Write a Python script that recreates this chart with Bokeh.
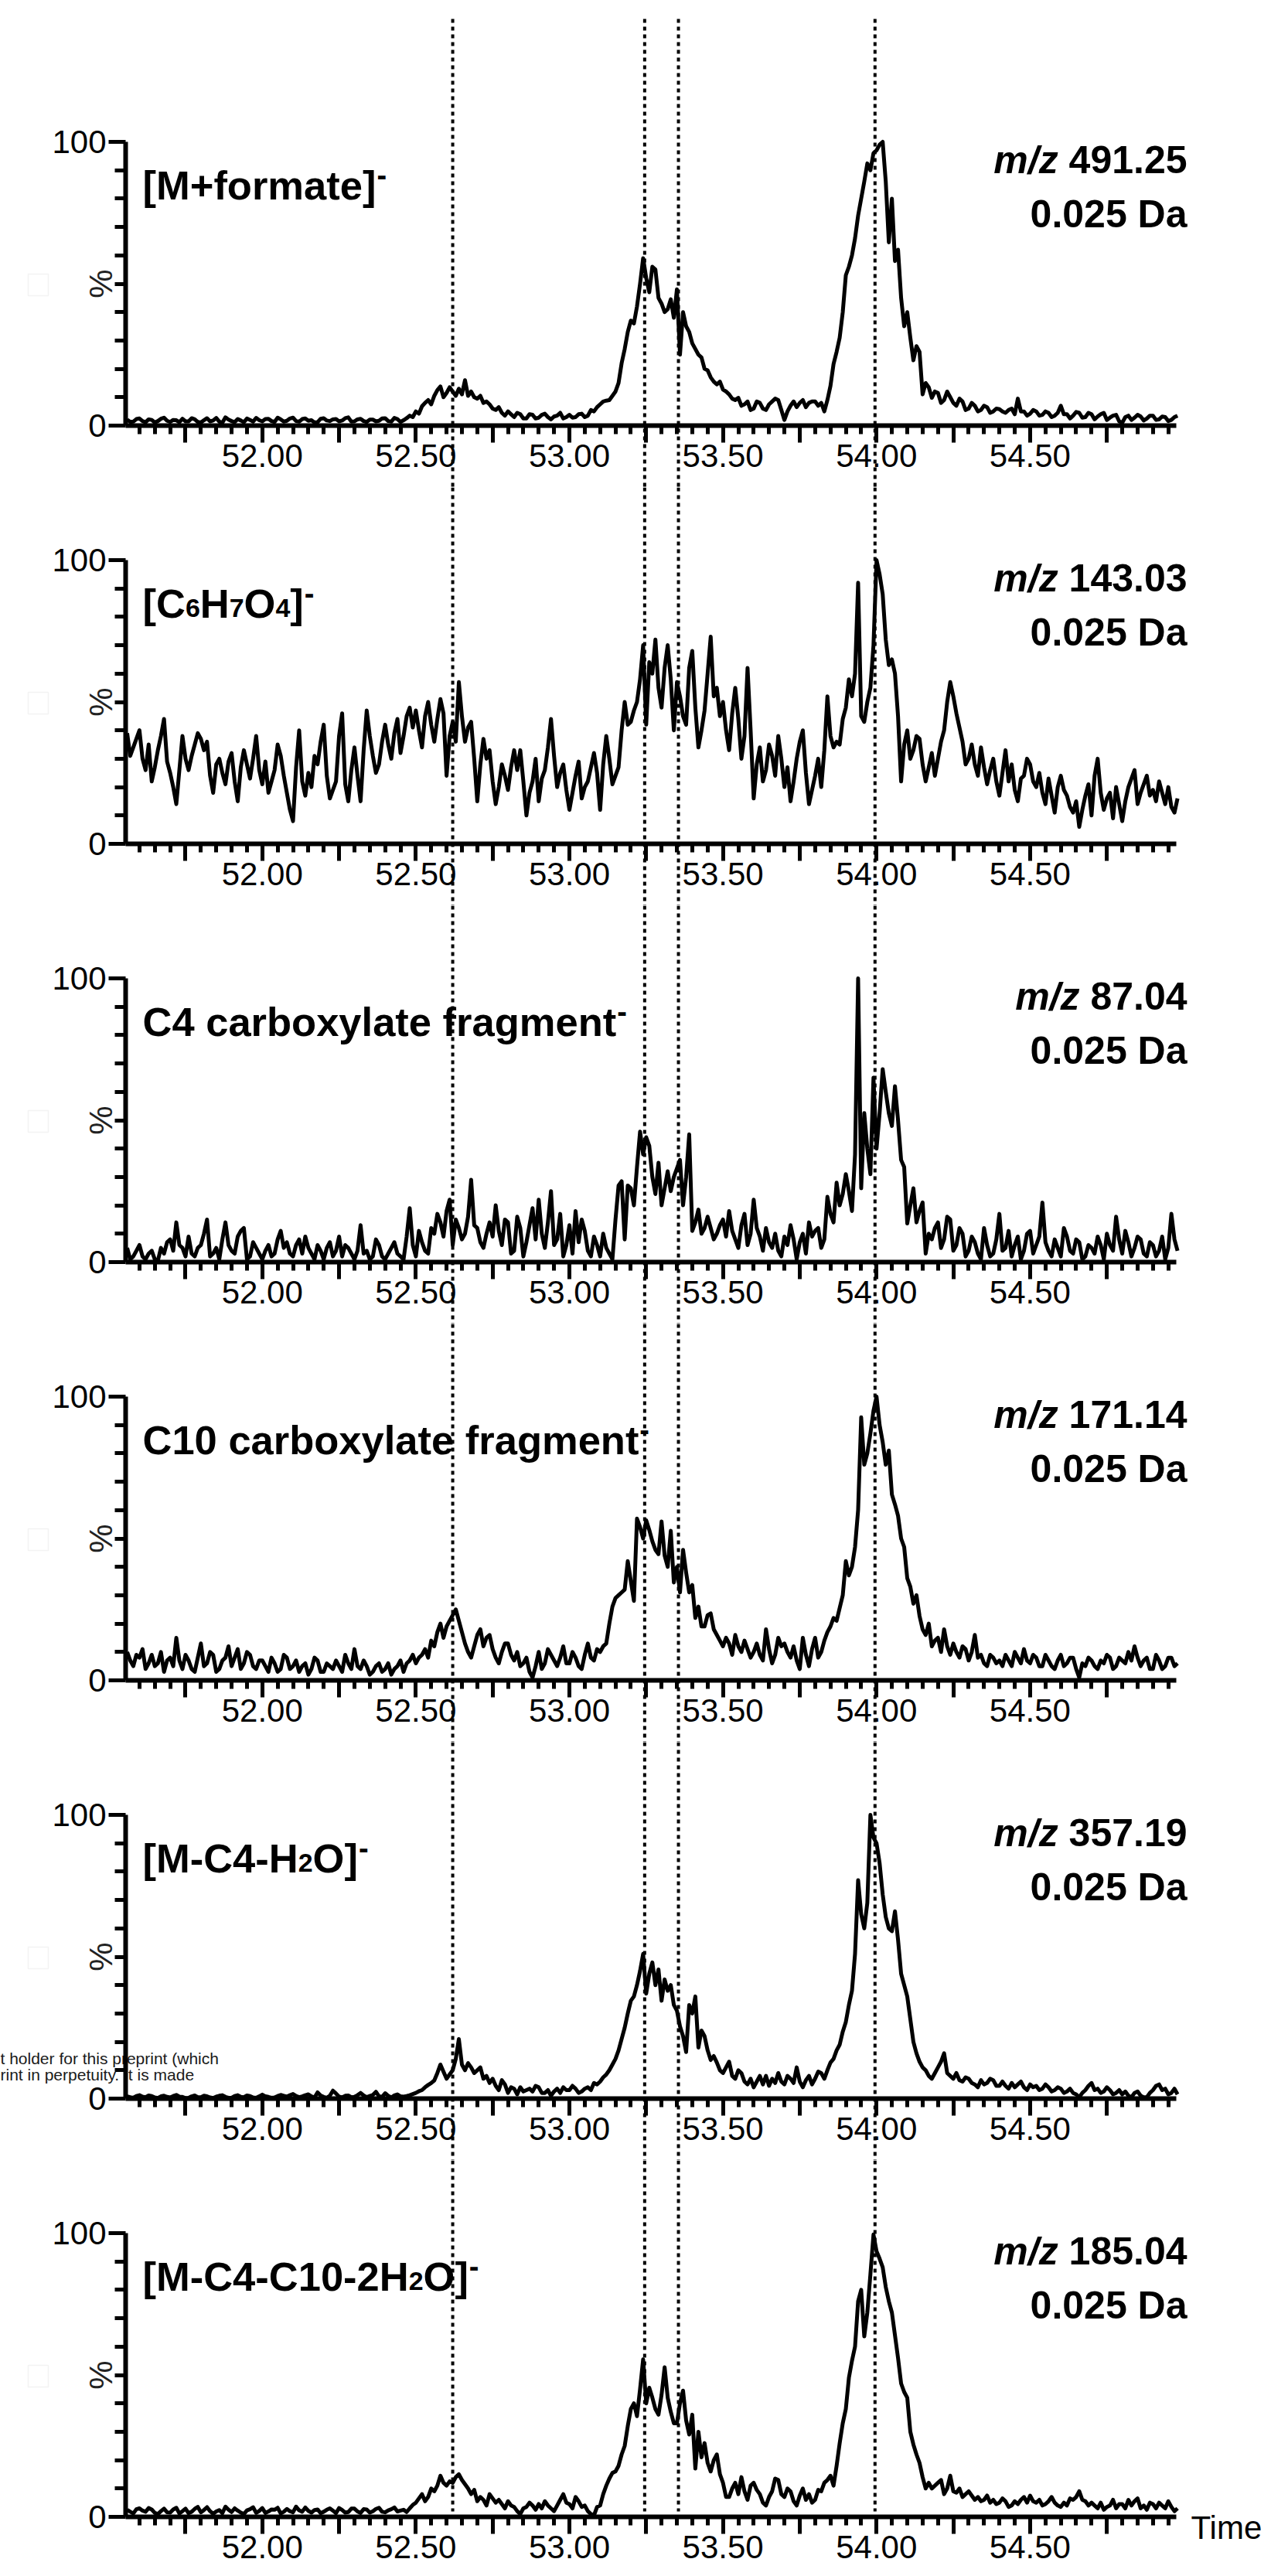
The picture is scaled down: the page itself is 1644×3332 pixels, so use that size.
import numpy as np
from bokeh.plotting import figure
from bokeh.layouts import column
from bokeh.models import Range1d, LinearAxis, FixedTicker, BoxAnnotation
from bokeh.core.properties import value
from bokeh.embed import file_html
from bokeh.resources import INLINE

# ---------------------------------------------------------------- data
# retention time grid (min): 51.56 ... 54.98, one scan every 0.01 min
time_min = np.round(51.56 + 0.01 * np.arange(343), 2)

# relative intensity (%) of each extracted ion chromatogram;
# first row 51.56-51.59, then one row per 0.1 min
eic_491 = [
    2.1, 1.3, 1.4, 2.3,
    2.5, 1.6, 1.2, 2.2, 2.0, 1.1, 1.6, 2.4, 2.8, 1.7,
    1.3, 2.0, 1.9, 1.2, 2.4, 1.5, 1.5, 2.6, 2.2, 1.3,
    1.1, 1.9, 2.6, 1.5, 1.8, 2.7, 1.4, 1.0, 2.9, 2.1,
    1.6, 1.2, 2.3, 1.8, 1.2, 2.5, 2.0, 1.4, 2.7, 1.9,
    1.5, 2.3, 2.4, 1.6, 1.3, 2.8, 2.2, 1.4, 1.7, 2.5,
    2.8, 1.6, 1.4, 2.3, 2.5, 1.7, 1.9, 1.1, 1.2, 2.4,
    2.6, 1.8, 1.6, 2.2, 2.3, 1.5, 1.8, 2.6, 2.9, 1.4,
    1.5, 2.2, 2.4, 1.6, 1.3, 2.1, 2.1, 1.5, 1.7, 2.5,
    2.6, 1.6, 1.4, 2.7, 2.3, 1.3, 1.9, 2.6, 3.5, 3.0,
    5.0, 4.2, 6.8, 8.0, 9.0, 7.5, 10.5, 12.5, 13.8, 10.0,
    11.5, 13.5, 12.0, 10.5, 13.0, 11.0, 16.0, 10.5, 12.0, 10.0,
    9.5, 10.5, 8.0, 8.5, 7.5, 6.0, 5.5, 6.5, 4.5, 3.5,
    5.0, 4.0, 3.0, 4.5, 4.0, 2.5, 2.5, 4.0, 3.8, 2.5,
    2.8, 3.8, 4.2, 3.0, 2.2, 3.2, 3.5, 4.5, 2.5, 3.0,
    3.8, 2.8, 3.0, 4.0, 4.2, 3.0, 3.5, 5.5, 5.0, 6.5,
    7.5, 8.5, 8.8, 9.0, 10.5, 12.0, 15.0, 22.0, 27.0, 33.0,
    37.0, 36.0, 42.0, 50.0, 59.0, 52.0, 47.0, 56.0, 55.0, 45.0,
    43.0, 40.0, 41.0, 44.5, 38.0, 48.0, 25.0, 40.0, 35.0, 33.0,
    29.0, 27.0, 25.0, 24.0, 20.0, 19.5, 17.0, 15.5, 14.5, 15.5,
    12.7, 12.0, 11.0, 9.5, 9.0, 9.8, 7.0, 7.5, 8.5, 5.5,
    6.0, 8.5, 8.0, 6.0, 5.5, 7.5, 8.5, 9.5, 9.0, 5.5,
    2.0, 5.0, 7.0, 8.5, 6.5, 8.0, 9.0, 6.5, 8.0, 8.5,
    8.5, 7.0, 8.0, 5.0, 9.0, 14.0, 21.7, 26.0, 31.0, 40.0,
    53.0, 56.0, 60.0, 66.0, 74.0, 80.0, 86.0, 92.4, 90.0, 96.0,
    97.0, 99.0, 100.0, 86.0, 64.6, 80.0, 58.0, 62.0, 45.0, 35.0,
    40.0, 31.0, 23.0, 28.0, 26.0, 11.0, 15.0, 13.5, 9.8, 12.0,
    11.5, 8.0, 9.0, 12.0, 10.0, 8.0, 7.0, 9.5, 8.5, 5.5,
    6.0, 8.0, 7.0, 5.0, 5.5, 7.0, 6.5, 4.5, 5.0, 6.0,
    5.8, 5.0, 4.5, 5.5, 6.0, 4.0, 9.5, 5.0, 5.0, 3.5,
    4.2, 5.5, 5.0, 3.5, 3.8, 5.0, 4.5, 3.0, 3.5, 4.5,
    7.0, 4.0, 4.0, 2.5, 3.5, 4.8, 4.5, 2.8, 3.0, 4.5,
    4.0, 2.2, 3.2, 4.0, 4.5, 2.0, 2.8, 3.5, 3.8, 1.5,
    1.0, 3.0, 3.5, 2.0, 2.8, 3.8, 3.2, 1.8, 2.5, 3.5,
    3.5, 2.0, 2.2, 3.2, 3.0, 1.6, 2.0, 3.0, 3.5,
]
eic_143 = [
    39, 31, 34, 37,
    40, 30, 26, 35, 22, 27, 33, 38, 44, 29,
    25, 20, 14, 26, 38, 30, 26, 31, 35, 39,
    37, 33, 36, 24, 18, 28, 30, 25, 21, 29,
    32, 22, 15, 27, 33, 28, 23, 30, 38, 26,
    21, 29, 18, 22, 26, 35, 31, 24, 18, 12,
    8, 27, 40, 22, 17, 25, 20, 31, 28, 36,
    42, 24, 16, 19, 22, 38, 46, 21, 15, 26,
    34, 24, 15, 33, 47, 38, 31, 25, 28, 36,
    42, 35, 30, 39, 44, 32, 38, 45, 48, 41,
    47, 40, 34, 45, 50, 42, 36, 44, 51, 46,
    24, 38, 43, 36, 57, 45, 36, 41, 43, 30,
    15, 28, 37, 30, 33, 22, 14, 20, 28, 24,
    19, 27, 33, 26, 33, 22, 10, 18, 22, 30,
    15, 23, 26, 34, 44, 31, 20, 25, 28, 19,
    12, 18, 24, 29, 16, 20, 22, 27, 32, 25,
    12, 28, 38, 30, 21, 24, 27, 40, 50, 42,
    43, 47, 50, 58, 70, 42, 64, 60, 72, 55,
    48, 62, 70, 58, 40, 57, 52, 45, 42, 62,
    68, 48, 34, 40, 47, 60, 73, 52, 55, 45,
    50, 40, 33, 46, 55, 44, 30, 38, 62, 40,
    16, 28, 34, 22, 26, 35, 31, 24, 38, 30,
    20, 27, 15, 22, 30, 36, 40, 25, 14, 19,
    24, 30, 20, 33, 52, 38, 34, 36, 35, 44,
    48, 58, 52, 60, 92, 45, 43, 50, 55, 70,
    100, 95, 88, 72, 63, 65, 60, 45, 22, 35,
    40, 30, 33, 38, 37, 28, 22, 27, 32, 24,
    30, 36, 40, 50, 57, 52, 46, 41, 36, 28,
    30, 35, 28, 24, 34, 27, 21, 26, 30, 22,
    17, 25, 33, 22, 28, 19, 15, 23, 24, 30,
    28, 22, 20, 25, 18, 14, 23, 17, 11, 20,
    24, 19, 17, 13, 11, 15, 6, 12, 17, 21,
    10, 24, 30, 18, 12, 16, 18, 9, 20, 14,
    8, 15, 20, 23, 26, 14, 18, 21, 24, 17,
    19, 15, 22, 18, 14, 20, 13, 11, 16,
]
eic_87 = [
    5, 1, 2, 4,
    6, 2, 1, 3, 4, 1, 0.5, 5, 3, 7,
    8, 4, 14, 6, 5, 2, 9, 3, 2, 5,
    6, 10, 15, 2, 3, 5, 1, 8, 14, 6,
    4, 3, 9, 11, 12, 1, 2, 7, 5, 3,
    1, 4, 6, 2, 3, 8, 11, 5, 7, 3,
    2, 6, 8, 3, 9, 5, 3, 1, 6, 4,
    1, 5, 7, 2, 4, 9, 2, 6, 5, 3,
    1, 4, 13, 3, 4, 1, 2, 8, 6, 2,
    1, 3, 5, 7, 3, 2, 1, 9, 19, 6,
    2, 11, 7, 4, 3, 12, 10, 17, 14, 9,
    18, 22, 6, 15, 12, 8, 10, 16, 29, 13,
    12, 7, 5, 10, 14, 9, 20, 11, 6, 15,
    14, 3, 4, 16, 12, 2, 7, 13, 19, 8,
    22, 10, 5, 14, 25, 6, 8, 17, 2, 6,
    13, 3, 18, 7, 15, 11, 4, 2, 9, 6,
    2, 10, 5, 3, 1, 15, 27, 28.5, 8, 27,
    26, 20, 33.5, 46, 38, 44, 41, 30, 24, 35,
    20, 26, 32, 25, 30, 33, 36, 20, 30, 45,
    11, 14, 18.5, 10, 12, 16, 12, 8, 10, 13,
    15, 9, 18, 11, 8, 5, 13, 17, 6, 10,
    22, 12, 9, 4, 12, 7, 5, 10, 4, 2,
    9, 6, 13, 8, 1, 7, 10, 3, 14, 9,
    11, 12, 5, 8, 23, 17, 14, 28, 20, 24,
    31, 25, 18, 38, 100, 26, 52.5, 40, 31, 65,
    40, 52.5, 68, 60, 52.5, 48, 62, 50, 36, 33.5,
    13.6, 20, 26, 14, 18, 21, 3, 10, 8, 12,
    14, 5, 8, 16, 15, 4, 6, 12, 10, 2,
    4, 9, 7, 3, 1, 12, 6, 2, 3, 8,
    17, 4, 5, 11, 2, 6, 9, 1, 4, 10,
    11, 3, 6, 9, 21, 7, 4, 2, 8, 5,
    2, 12, 9, 4, 3, 8, 7, 1, 2, 6,
    5, 3, 9, 6, 1, 10, 6, 4, 16, 8,
    3, 11, 7, 2, 5, 9, 8, 3, 2, 7,
    6, 2, 4, 9, 1, 5, 17, 8, 4,
]
eic_171 = [
    10, 7, 5, 9,
    8, 11, 4, 6, 9, 5, 6, 10, 3, 7,
    8, 5, 15, 7, 4, 9, 7, 4, 3, 8,
    13, 5, 6, 10, 9, 3, 4, 7, 8, 12,
    5, 8, 11, 4, 6, 10, 9, 5, 4, 7,
    7, 5, 3, 8, 6, 3, 4, 9, 8, 4,
    5, 7, 3, 5, 6, 2, 4, 8, 7, 3,
    3, 6, 5, 4, 7, 5, 3, 9, 6, 4,
    11, 5, 4, 7, 5, 2, 3, 5, 6, 3,
    4, 6, 2, 4, 5, 7, 3, 6, 7, 9,
    6, 8, 9, 11, 8, 14, 12, 17, 20, 15,
    19, 21, 23, 25, 21, 17, 13, 10, 8, 12,
    16, 18, 12, 15, 16, 11, 8, 6, 10, 13,
    13, 9, 7, 10, 5, 6, 8, 3, 1, 5,
    10, 4, 6, 11, 9, 7, 5, 8, 12, 6,
    6, 10, 8, 5, 4, 9, 13, 8, 7, 11,
    10, 12, 13, 20, 26, 29, 30, 31, 32, 42,
    35, 28, 57, 54, 50, 56.4, 53, 49, 46, 44.5,
    56, 44, 40, 52.7, 34.5, 40, 31, 46, 38, 31,
    33.6, 22, 26, 19, 19, 23, 23.6, 18, 16, 14,
    12, 15, 13, 9, 16, 12, 10, 14, 11, 8,
    10, 13, 9, 7, 18, 11, 6, 9, 15, 12,
    13, 10, 8, 12, 7, 4, 15, 9, 5, 11,
    15, 8, 10, 14, 17, 19, 22, 21, 25.5, 30,
    42, 37, 40, 47, 60, 92.7, 76, 80, 87, 95,
    100, 90, 84, 76, 81, 65.5, 62, 58, 50, 47,
    36, 33, 27, 30, 22.7, 18, 16, 20, 12, 14,
    15, 10, 18, 12, 9, 13, 10, 8, 12, 11,
    7, 10, 16, 8, 9, 6, 5, 9, 8, 6,
    7, 5, 9, 7, 5, 10, 8, 6, 11, 7,
    6, 9, 8, 5, 5, 9, 7, 5, 4, 7,
    9, 5, 6, 8, 8, 4, 1, 6, 5, 8,
    7, 5, 4, 7, 6, 9, 8, 4, 5, 8,
    7, 6, 10, 7, 12, 8, 5, 7, 8, 4,
    4, 9, 7, 4, 5, 8, 8, 5, 6,
]
eic_357 = [
    0.8, 0.5, 0.3, 0.9,
    1.2, 0.7, 0.5, 1.1, 0.9, 0.4, 0.2, 0.8, 1.0, 0.6,
    0.4, 0.9, 1.3, 0.7, 0.6, 0.2, 0.3, 0.8, 1.1, 0.5,
    0.5, 1.0, 0.8, 0.4, 0.2, 0.7, 1.0, 1.2, 0.6, 0.3,
    0.3, 0.9, 1.2, 0.6, 0.5, 1.1, 0.9, 0.4, 0.3, 0.8,
    1.4, 0.8, 0.6, 0.3, 0.4, 0.9, 1.3, 1.0, 0.7, 1.2,
    1.6, 0.9, 0.5, 0.8, 1.2, 1.5, 0.8, 0.4, 2.2, 1.1,
    0.6, 0.3, 1.0, 2.8, 1.8, 0.7, 0.4, 1.0, 1.1, 0.5,
    0.6, 1.2, 2.0, 1.1, 0.5, 0.9, 1.3, 2.4, 0.8, 0.6,
    1.9, 1.0, 0.4, 1.1, 1.5, 0.8, 0.7, 0.9, 1.2, 1.6,
    2.0, 2.6, 3.0, 4.0, 4.8, 5.5, 6.4, 9.0, 12.0, 9.5,
    7.0, 8.5, 10.0, 14.0, 21.0, 12.0, 10.0, 12.5, 11.0, 9.0,
    10.0, 11.0, 7.0, 8.0, 5.5, 7.0, 4.5, 3.0, 6.5, 5.0,
    2.0, 4.0, 3.5, 1.5, 4.0, 2.5, 3.0, 3.5, 2.5, 4.5,
    4.0, 2.0, 2.0, 3.0, 1.0, 2.5, 3.5, 2.0, 4.0, 3.0,
    3.0, 4.5, 3.5, 2.0, 2.5, 3.5, 4.0, 3.0, 5.5, 5.0,
    6.0, 7.5, 8.5, 10.0, 12.0, 14.0, 17.0, 21.0, 25.0, 30.0,
    34.5, 36.0, 40.0, 45.0, 51.0, 37.0, 44.0, 48.0, 40.0, 45.5,
    34.5, 42.0, 38.0, 40.0, 33.0, 31.0, 25.5, 22.0, 16.4, 33.0,
    30.0, 36.0, 18.0, 24.0, 22.0, 17.0, 13.6, 15.0, 12.7, 10.0,
    9.0, 11.0, 13.0, 8.0, 7.0, 10.0, 9.0, 6.0, 5.0, 7.0,
    4.0, 6.0, 8.0, 5.0, 8.0, 4.5, 7.0, 5.5, 9.0, 6.0,
    5.0, 8.0, 7.0, 5.5, 11.0, 6.0, 4.0, 6.5, 8.0, 5.0,
    7.0, 9.5, 9.0, 7.0, 10.0, 12.7, 14.0, 17.0, 19.0, 23.6,
    27.0, 33.0, 38.0, 51.0, 77.0, 65.0, 60.0, 69.0, 100.0, 92.0,
    90.0, 83.0, 72.0, 64.0, 60.0, 59.0, 66.0, 56.0, 44.0, 40.0,
    36.0, 28.0, 20.0, 16.0, 13.0, 11.0, 10.0, 8.0, 7.0, 9.0,
    11.0, 13.0, 16.0, 9.0, 8.0, 7.0, 9.0, 6.5, 6.0, 7.5,
    7.0, 5.5, 5.0, 4.0, 6.5, 5.0, 5.5, 7.0, 6.5, 4.5,
    4.5, 6.0, 4.5, 3.5, 5.5, 4.0, 5.0, 6.0, 4.0, 3.0,
    5.0, 4.0, 4.5, 3.0, 3.5, 5.0, 4.0, 2.5, 3.0, 4.0,
    3.5, 2.0, 2.5, 3.5, 2.0, 1.5, 0.5, 2.0, 3.0, 4.5,
    5.5, 3.0, 3.5, 2.0, 2.5, 4.0, 3.0, 1.5, 2.0, 3.0,
    1.5, 2.5, 1.0, 0.5, 2.0, 2.5, 1.0, 0.5, 0.5, 2.0,
    3.0, 4.5, 5.0, 3.0, 3.5, 1.5, 2.0, 3.5, 1.5,
]
eic_185 = [
    2.5, 1.8, 1.2, 2.7,
    3.0, 2.2, 1.8, 3.1, 2.6, 1.4, 1.0, 2.0, 2.9, 1.6,
    1.5, 2.6, 3.2, 1.2, 2.0, 2.9, 1.3, 1.8, 2.8, 3.5,
    1.6, 2.4, 3.4, 2.0, 1.1, 1.9, 2.4, 1.3, 3.6, 2.5,
    1.7, 3.0, 2.2, 1.5, 1.0, 2.3, 2.7, 3.4, 1.4, 2.1,
    3.1, 1.4, 1.9, 2.6, 2.5, 3.2, 1.2, 1.8, 2.8, 2.0,
    1.6, 3.6, 2.3, 1.8, 3.3, 2.1, 1.5, 2.4, 2.6, 1.3,
    1.8, 2.5, 3.0, 2.2, 1.3, 3.1, 2.4, 1.5, 1.7, 2.9,
    2.9, 1.9, 1.4, 2.7, 2.6, 1.5, 2.0, 2.8, 3.2, 1.8,
    1.6, 2.3, 2.7, 3.3, 1.9, 2.2, 2.5, 1.7, 3.0, 4.2,
    5.0, 6.5, 8.0, 5.5, 7.0, 10.0, 9.0, 11.0, 14.5, 12.0,
    11.0, 12.5, 12.0, 14.0, 15.0, 13.0, 11.5, 10.0, 8.0, 9.5,
    5.5, 7.0, 6.0, 4.0, 8.0, 6.5, 5.0, 6.0, 4.5, 3.0,
    5.5, 4.0, 3.5, 2.0, 1.0, 3.0, 3.5, 5.0, 4.0, 2.5,
    4.5, 3.0, 5.5, 4.0, 3.0, 2.0, 4.0, 6.0, 8.0, 5.0,
    4.5, 3.0, 7.0, 5.5, 3.5, 4.0, 2.0, 1.0, 0.5, 3.5,
    4.0, 8.0, 11.0, 13.5, 15.5, 16.0, 18.0, 22.0, 25.0, 32.0,
    38.0, 40.0, 35.5, 45.0, 55.5, 40.0, 45.5, 42.0, 38.0, 36.0,
    43.0, 52.7, 42.0, 37.0, 33.0, 33.0, 40.0, 44.5, 34.0, 29.0,
    36.0, 17.0, 30.0, 21.0, 26.0, 19.0, 16.0, 20.0, 22.0, 15.0,
    12.0, 7.0, 7.0, 10.0, 12.0, 8.0, 14.0, 9.0, 6.0, 11.0,
    12.0, 9.5, 8.0, 5.0, 4.0, 7.0, 9.0, 13.5, 13.0, 8.0,
    7.0, 10.0, 9.0, 5.5, 4.0, 7.5, 10.0, 6.0, 8.0, 5.0,
    6.0, 9.5, 9.0, 12.0, 13.0, 14.5, 11.0, 18.0, 26.0, 33.0,
    38.0, 49.0, 55.0, 60.0, 76.0, 80.0, 63.6, 72.0, 85.5, 99.5,
    93.6, 91.0, 88.0, 81.0, 76.0, 72.0, 64.0, 56.0, 47.0, 44.0,
    42.0, 30.0, 25.5, 22.0, 19.0, 14.0, 10.0, 12.0, 10.0, 11.0,
    12.0, 13.0, 8.0, 10.0, 14.5, 9.0, 8.5, 10.0, 7.0, 8.0,
    9.0, 7.5, 6.0, 7.0, 5.5, 6.0, 7.5, 5.0, 6.0, 4.5,
    5.0, 6.5, 5.5, 3.5, 4.0, 5.5, 4.5, 6.0, 7.0, 5.0,
    7.5, 5.5, 5.0, 6.0, 4.0, 4.5, 5.5, 7.0, 5.0, 4.0,
    3.5, 5.0, 4.0, 6.5, 6.0, 7.0, 9.0, 6.0, 5.5, 4.0,
    5.0, 4.0, 3.0, 5.0, 2.5, 3.5, 4.0, 6.0, 3.0, 4.5,
    4.5, 3.0, 6.0, 4.0, 5.5, 6.5, 3.0, 4.0, 2.5, 5.0,
    4.5, 3.0, 5.0, 4.0, 3.0, 5.5, 3.5, 2.0, 3.0,
]

traces = [eic_491, eic_143, eic_87, eic_171, eic_357, eic_185]

# ion names as runs of (text, style): n = normal, sub = subscript, sup = superscript
ion_labels = [
    [("[M+formate]", "n"), ("-", "sup")],
    [("[C", "n"), ("6", "sub"), ("H", "n"), ("7", "sub"), ("O", "n"),
     ("4", "sub"), ("]", "n"), ("-", "sup")],
    [("C4 carboxylate fragment", "n"), ("-", "sup")],
    [("C10 carboxylate fragment", "n"), ("-", "sup")],
    [("[M-C4-H", "n"), ("2", "sub"), ("O]", "n"), ("-", "sup")],
    [("[M-C4-C10-2H", "n"), ("2", "sub"), ("O]", "n"), ("-", "sup")],
]
mz_values = ["491.25", "143.03", "87.04", "171.14", "357.19", "185.04"]
window_label = "0.025 Da"

# retention times marked by dotted guide lines (min)
marker_times = [52.62, 53.245, 53.355, 53.995]

# x axis ticks
major_ticks = [51.75, 52.00, 52.25, 52.50, 52.75, 53.00, 53.25,
               53.50, 53.75, 54.00, 54.25, 54.50, 54.75]
tick_labels = ["", "52.00", "", "52.50", "", "53.00", "",
               "53.50", "", "54.00", "", "54.50", ""]
minor_ticks = [round(51.60 + 0.05 * i, 2) for i in range(68)]
y_minor_ticks = [10, 20, 30, 40, 50, 60, 70, 80, 90]

# ---------------------------------------------------------------- layout
W = 1644
T_START, T_END = 51.555, 54.976      # extent of the time axis
AX_L, AX_R = 162, 1521                # pixel columns of the time axis ends
PX_MIN = (AX_R - AX_L) / (T_END - T_START)
PX_PCT = 3.67                         # pixels per % intensity
BASE0, PITCH = 550, 541               # baseline of first panel, panel pitch
fig_tops = [0, 630, 1171, 1712, 2253, 2794]
fig_heights = [630, 541, 541, 541, 541, 538]

FONT = "Liberation Sans"
TITLE_PX, SUB_PX, SUP_PX = 52.5, 34, 38
MZ_PX = 50
TICK_PX = 42

# advance widths of Arial/Liberation Sans Bold, in em
BOLD_EM = {
    "[": .333, "]": .333, "M": .833, "+": .584, "f": .333, "o": .611,
    "r": .389, "m": .889, "a": .556, "t": .333, "e": .556, "C": .722,
    "H": .722, "O": .778, " ": .278, "-": .333, "c": .556, "b": .611,
    "x": .556, "y": .556, "l": .278, "g": .611, "n": .611, ".": .278,
}


def t_at(px):
    return T_START + (px - AX_L) / PX_MIN


def bold_width(s, size):
    return sum(BOLD_EM.get(ch, .556) for ch in s) * size


def bold_text(p, x_px, y_val, text, size, align="left", style="bold"):
    p.text(x=[t_at(x_px)], y=[y_val], text=[text],
           text_font=value(FONT), text_font_style=style,
           text_font_size=f"{size}px", text_align=align,
           text_baseline="alphabetic", text_color="black")


figs = []
for i, (ys, runs, mz) in enumerate(zip(traces, ion_labels, mz_values)):
    top, h = fig_tops[i], fig_heights[i]
    base = BASE0 + PITCH * i
    y_hi = (base - top) / PX_PCT
    y_lo = (base - (top + h)) / PX_PCT

    p = figure(width=W, height=h,
               x_range=Range1d(t_at(0), t_at(W)),
               y_range=Range1d(y_lo, y_hi),
               x_axis_type=None, y_axis_type=None,
               output_backend="svg", toolbar_location=None,
               min_border=0)
    p.outline_line_color = None
    p.background_fill_color = "white"
    p.border_fill_color = "white"

    # dotted guide lines through all panels
    g_top = (base - 24) / PX_PCT if i == 0 else y_hi
    g_bot = (base - 3248 + PITCH * (5 - i)) / PX_PCT if i == 5 else y_lo
    n = len(marker_times)
    p.segment(x0=marker_times, x1=marker_times, y0=[g_top] * n, y1=[g_bot] * n,
              line_color="black", line_width=4, line_dash="5 5")

    # chromatogram trace
    p.line(time_min, ys, line_color="black", line_width=5, line_join="round")

    # time axis, drawn at 0 %
    xa = LinearAxis(fixed_location=0, bounds=(T_START, T_END),
                    ticker=FixedTicker(ticks=major_ticks, minor_ticks=minor_ticks),
                    major_label_overrides=dict(zip(major_ticks, tick_labels)))
    xa.axis_line_width = 6
    xa.major_tick_line_width = 5
    xa.minor_tick_line_width = 5
    xa.major_tick_in = 0
    xa.major_tick_out = 22
    xa.minor_tick_in = 0
    xa.minor_tick_out = 11
    xa.major_label_standoff = 2
    xa.major_label_text_font = FONT
    xa.major_label_text_font_size = f"{TICK_PX}px"
    xa.major_label_text_color = "black"
    p.add_layout(xa, "below")

    # intensity axis
    ya = LinearAxis(fixed_location=T_START, bounds=(0, 100),
                    ticker=FixedTicker(ticks=[0, 100], minor_ticks=y_minor_ticks))
    ya.axis_line_width = 6
    ya.major_tick_line_width = 5
    ya.minor_tick_line_width = 5
    ya.major_tick_in = 0
    ya.major_tick_out = 22
    ya.minor_tick_in = 0
    ya.minor_tick_out = 14
    ya.major_label_standoff = 3
    ya.major_label_text_font = FONT
    ya.major_label_text_font_size = f"{TICK_PX}px"
    ya.major_label_text_color = "black"
    p.add_layout(ya, "left")

    # "%" axis caption
    p.text(x=[t_at(130)], y=[50], text=["%"], angle=np.pi / 2,
           text_font=value(FONT), text_font_size=f"{TICK_PX}px",
           text_align="center", text_baseline="middle", text_color="#222222")

    # faint box in the left margin
    p.add_layout(BoxAnnotation(left=t_at(36), right=t_at(62),
                               bottom=168 / PX_PCT, top=196 / PX_PCT,
                               fill_alpha=0, line_color="#d8d8d8", line_width=1.5))

    # ion name, with sub- and superscripts
    x_px = 184
    y_name = 311 / PX_PCT
    for txt, kind in runs:
        if kind == "sub":
            bold_text(p, x_px, y_name - 6 / PX_PCT, txt, SUB_PX)
            x_px += bold_width(txt, SUB_PX)
        elif kind == "sup":
            bold_text(p, x_px + 1, y_name + 13 / PX_PCT, txt, SUP_PX)
            x_px += bold_width(txt, SUP_PX)
        else:
            bold_text(p, x_px, y_name, txt, TITLE_PX)
            x_px += bold_width(txt, TITLE_PX)

    # m/z value and extraction window
    x_right = 1535
    bold_text(p, x_right, 344 / PX_PCT, mz, MZ_PX, align="right")
    bold_text(p, x_right - bold_width(" " + mz, MZ_PX), 344 / PX_PCT, "m/z",
              MZ_PX, align="right", style="bold italic")
    bold_text(p, x_right, 274 / PX_PCT, window_label, MZ_PX, align="right")

    if i == 4:
        p.text(x=[t_at(0), t_at(0)], y=[52 / PX_PCT, 31 / PX_PCT],
               text=["t holder for this preprint (which",
                     "rint in perpetuity. It is made"],
               text_font=value(FONT), text_font_size="21px",
               text_align="left", text_baseline="alphabetic",
               text_color="#1a1a1a")
    if i == 5:
        p.text(x=[t_at(1540)], y=[-14 / PX_PCT], text=["Time"],
               text_font=value(FONT), text_font_size=f"{TICK_PX}px",
               text_align="left", text_baseline="alphabetic",
               text_color="black")

    figs.append(p)

for ys in traces:
    assert len(ys) == len(time_min), len(ys)

layout = column(*figs, spacing=0)
open("out.html", "w").write(file_html(layout, INLINE))
